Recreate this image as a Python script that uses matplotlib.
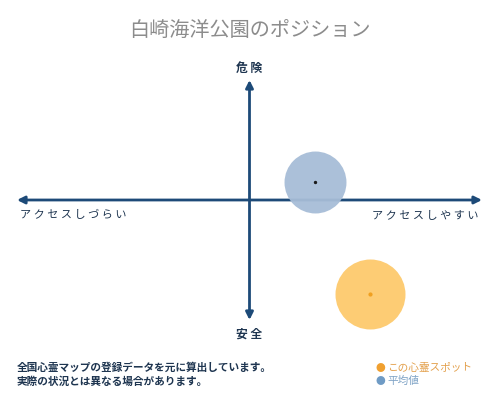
import matplotlib
matplotlib.use("Agg")
import matplotlib.pyplot as plt

plt.rcParams['font.family'] = ['Noto Sans CJK JP', 'DejaVu Sans']

title = "白崎海洋公園のポジション"
x_labels = ["アクセスしづらい", "アクセスしやすい"]
y_labels = ["安全", "危険"]
notes = ["全国心霊マップの登録データを元に算出しています。",
         "実際の状況とは異なる場合があります。"]
legend_names = ["この心霊スポット", "平均値"]

# positions on the access (x) / danger (y) plane, range -1..1
spot_xy = (0.52, -0.78)
avg_xy = (0.28, 0.15)

navy = "#1d4a78"
txt = "#1e3550"

def spaced(s):
    return " ".join(s)

fig = plt.figure(figsize=(5, 4), dpi=100)
ax = fig.add_axes([0.034, 0.2, 0.93, 0.6])
ax.set_xlim(-1, 1)
ax.set_ylim(-1, 1)
ax.axis('off')

arrow = dict(arrowstyle='<|-|>', color=navy, lw=2, mutation_scale=11, shrinkA=0, shrinkB=0)
ax.annotate('', xy=(1, 0), xytext=(-1, 0), arrowprops=arrow)
ax.annotate('', xy=(0, 1), xytext=(0, -1), arrowprops=arrow)

ax.scatter([avg_xy[0]], [avg_xy[1]], s=1990, color="#a7bdd7", alpha=0.95, lw=0, zorder=3, clip_on=False)
ax.scatter([avg_xy[0]], [avg_xy[1]], s=2, color="#1a1a1a", zorder=4, clip_on=False)
ax.scatter([spot_xy[0]], [spot_xy[1]], s=2540, color="#fdcc74", lw=0, zorder=3, clip_on=False)
ax.scatter([spot_xy[0]], [spot_xy[1]], s=4, color="#f0a020", zorder=4, clip_on=False)

fig.text(0.5, 0.923, title, ha='center', va='center', fontsize=14.5, color="#8c8c8c")
fig.text(0.498, 0.83, spaced(y_labels[1]), ha='center', va='center', fontsize=8.5,
         color=txt, weight='bold')
fig.text(0.498, 0.165, spaced(y_labels[0]), ha='center', va='center', fontsize=8.5,
         color=txt, weight='bold')
fig.text(0.146, 0.462, spaced(x_labels[0]), ha='center', va='center', fontsize=8,
         color=txt)
fig.text(0.85, 0.46, spaced(x_labels[1]), ha='center', va='center', fontsize=8,
         color=txt)

fig.text(0.034, 0.08, notes[0], ha='left', va='center', fontsize=7.7, color=txt, weight='bold')
fig.text(0.034, 0.047, notes[1], ha='left', va='center', fontsize=7.7, color=txt, weight='bold')

fig.text(0.761, 0.08, "●", ha='center', va='center', fontsize=7, color="#f0a030")
fig.text(0.774, 0.08, legend_names[0], ha='left', va='center', fontsize=7.7,
         color="#e3a04c")
fig.text(0.761, 0.047, "●", ha='center', va='center', fontsize=7, color="#6f9bc5")
fig.text(0.774, 0.047, legend_names[1], ha='left', va='center', fontsize=7.7, color="#7fa3c6")

fig.savefig("out.png", dpi=100)
